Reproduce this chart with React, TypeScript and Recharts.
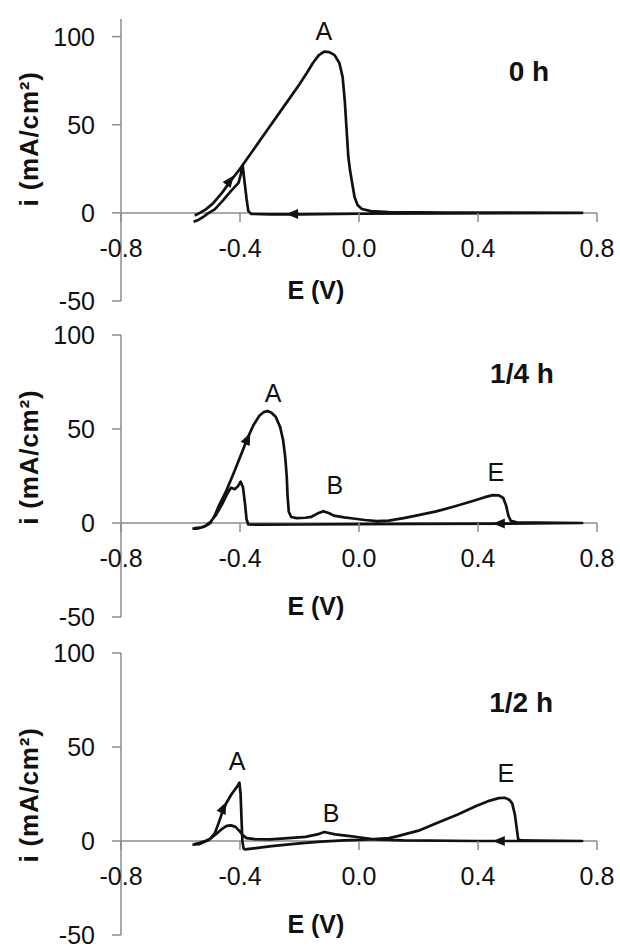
import { LineChart, Line, XAxis, YAxis, ReferenceLine, ReferenceDot } from "recharts";

const FONT = '"Liberation Sans", Arial, sans-serif';
const INK = "#111";
const AXIS = "#8c8c8c";

const xTicks = [-0.8, -0.4, 0, 0.4, 0.8];
const yTicks = [-50, 0, 50, 100];

// cyclic scans, [E (V), i (mA/cm2)] in scan order: forward sweep then the return sweep
const scan0h: [number, number][] = [
  [-0.552, -1.5], [-0.535, 0], [-0.515, 2], [-0.49, 5.5], [-0.46, 11.5], [-0.43, 18.5],
  [-0.4, 25], [-0.35, 37], [-0.3, 49], [-0.25, 61], [-0.2, 73], [-0.175, 79.5],
  [-0.155, 85], [-0.135, 89.5], [-0.117, 91.5], [-0.1, 91.2], [-0.082, 89.5], [-0.066, 85],
  [-0.055, 77], [-0.048, 64], [-0.042, 48], [-0.036, 32], [-0.03, 24], [-0.022, 16],
  [-0.015, 9], [-0.005, 4.5], [0.01, 2.2], [0.04, 1], [0.1, 0.4], [0.3, 0.2],
  [0.5, 0.1], [0.75, 0],
  [0.5, -0.2], [0.3, -0.3], [0, -0.5], [-0.2, -0.8], [-0.3, -0.8], [-0.362, -0.6],
  [-0.372, 1], [-0.378, 8], [-0.385, 18], [-0.391, 27], [-0.397, 22], [-0.405, 17],
  [-0.43, 12.5], [-0.46, 6.5], [-0.485, 2], [-0.505, 0], [-0.525, -2.5], [-0.54, -4],
  [-0.556, -5],
];

const scan15m: [number, number][] = [
  [-0.555, -2.8], [-0.53, -2.3], [-0.515, -1.5], [-0.5, 0], [-0.485, 4], [-0.47, 9.5],
  [-0.445, 17.5], [-0.42, 27], [-0.4, 35], [-0.375, 45], [-0.355, 52], [-0.335, 57],
  [-0.32, 59], [-0.308, 59.5], [-0.295, 58.8], [-0.28, 56.5], [-0.265, 51], [-0.255, 44],
  [-0.248, 35], [-0.243, 25], [-0.24, 14], [-0.236, 6], [-0.228, 3.2], [-0.21, 2.6],
  [-0.18, 2.8], [-0.16, 3.3], [-0.14, 5], [-0.12, 6.3], [-0.1, 5.2], [-0.085, 3.9],
  [-0.05, 3], [-0.02, 2.4], [0.02, 1.6], [0.06, 1], [0.1, 1.3], [0.15, 2.6],
  [0.2, 4.2], [0.26, 6.2], [0.32, 8.8], [0.38, 11.6], [0.42, 13.6], [0.45, 14.8],
  [0.47, 14.7], [0.485, 13.3], [0.495, 9], [0.502, 4], [0.51, 1.2], [0.53, 0.4],
  [0.6, 0.2], [0.75, 0],
  [0.5, -0.3], [0.2, -0.5], [0, -0.6], [-0.2, -0.8], [-0.33, -0.9], [-0.372, -0.8],
  [-0.378, 2], [-0.383, 10], [-0.39, 19], [-0.398, 22], [-0.407, 19.5], [-0.418, 18],
  [-0.43, 18.8], [-0.443, 15.5], [-0.46, 10], [-0.48, 4.5], [-0.5, 0.5], [-0.52, -2],
  [-0.545, -3], [-0.56, -3],
];

const scan30m: [number, number][] = [
  [-0.555, -1.8], [-0.535, -1], [-0.517, 0], [-0.5, 1.2], [-0.485, 4], [-0.472, 9.5],
  [-0.46, 15], [-0.445, 20.5], [-0.428, 25], [-0.412, 28.5], [-0.402, 31], [-0.398, 25],
  [-0.395, 12], [-0.392, 0], [-0.388, -4], [-0.383, -4.5], [-0.34, -3.7], [-0.294, -2.7],
  [-0.2, -1.3], [-0.128, -0.3], [-0.05, 0.3], [0, 0.6], [0.05, 1], [0.1, 1.6],
  [0.13, 2.6], [0.2, 5.5], [0.262, 9.6], [0.33, 14], [0.394, 18.6], [0.44, 21.5],
  [0.47, 22.8], [0.49, 23], [0.505, 22], [0.515, 20], [0.524, 14], [0.53, 7],
  [0.535, 1], [0.545, 0.3], [0.6, 0.2], [0.75, 0],
  [0.4, 0], [0.15, 0.3], [0.05, 0.9], [0, 2], [-0.03, 2.6], [-0.08, 3.5],
  [-0.117, 4.8], [-0.14, 3.5], [-0.18, 2.2], [-0.25, 1.4], [-0.3, 0.9], [-0.35, 1],
  [-0.378, 1.5], [-0.39, 3], [-0.4, 5], [-0.415, 7.5], [-0.43, 8.3], [-0.445, 8],
  [-0.46, 6.5], [-0.478, 4], [-0.505, 0.5], [-0.538, -1.7], [-0.56, -2],
];

type Note = { text: string; e: number; i: number };
type Arrow = { e: number; i: number; de: number; di: number };

const peaks0h: Note[] = [{ text: "A", e: -0.118, i: 103 }];
const peaks15m: Note[] = [
  { text: "A", e: -0.289, i: 69 },
  { text: "B", e: -0.081, i: 20 },
  { text: "E", e: 0.46, i: 27 },
];
const peaks30m: Note[] = [
  { text: "A", e: -0.41, i: 42.5 },
  { text: "B", e: -0.094, i: 15 },
  { text: "E", e: 0.494, i: 36 },
];

const arrows0h: Arrow[] = [
  { e: -0.433, i: 18.5, de: 0.089, di: 20 },
  { e: -0.225, i: -0.7, de: -1, di: 0 },
];
const arrows15m: Arrow[] = [
  { e: -0.374, i: 45, de: 0.066, di: 22.3 },
  { e: 0.47, i: -0.3, de: -1, di: 0 },
];
const arrows30m: Arrow[] = [
  { e: -0.455, i: 17.8, de: 0.044, di: 15 },
  { e: 0.47, i: 0, de: -1, di: 0 },
];

const PLOT_LEFT = 121;
const PLOT_RIGHT = 23;
const PLOT_H = 282;
const PLOT_W = 620 - PLOT_LEFT - PLOT_RIGHT;

const panels = [
  { tag: { text: "0 h", e: 0.571, i: 80.5 }, scan: scan0h, peaks: peaks0h, arrows: arrows0h, domain: [-50, 110], top: 0, marginTop: 19, bottom: 14, yTitle: 42 },
  { tag: { text: "1/4 h", e: 0.548, i: 80 }, scan: scan15m, peaks: peaks15m, arrows: arrows15m, domain: [-50, 100], top: 321, marginTop: 14, bottom: 14, yTitle: 35 },
  { tag: { text: "1/2 h", e: 0.545, i: 74 }, scan: scan30m, peaks: peaks30m, arrows: arrows30m, domain: [-50, 100], top: 639, marginTop: 14, bottom: 12, yTitle: 24.5 },
];

function Panel({ p }: { p: (typeof panels)[number] }) {
  const [lo, hi] = p.domain;
  const pxPerI = PLOT_H / (hi - lo);
  const pxPerE = PLOT_W / 1.6;
  const data = p.scan.map(([e, i]) => ({ e, i }));

  const textShape = (n: Note, size: number, weight: number) => (s: any) => (
    <text x={s.cx} y={s.cy} dy="0.36em" textAnchor="middle" fontSize={size} fontWeight={weight} fill={INK}>
      {n.text}
    </text>
  );

  return (
    <div style={{ position: "absolute", left: 0, top: p.top }}>
      <LineChart width={620} height={p.marginTop + PLOT_H + p.bottom} data={data}
        margin={{ top: p.marginTop, right: PLOT_RIGHT, bottom: p.bottom, left: 0 }}>
        <XAxis type="number" dataKey="e" domain={[-0.8, 0.8]} ticks={xTicks} allowDataOverflow hide />
        <YAxis type="number" domain={p.domain} ticks={yTicks} interval={0} allowDataOverflow width={PLOT_LEFT}
          tickSize={9} tickMargin={17} tick={{ fontSize: 25, fill: INK }}
          axisLine={{ stroke: AXIS, strokeWidth: 1.5 }} tickLine={{ stroke: AXIS, strokeWidth: 1.5 }} />
        <ReferenceLine y={0} stroke={AXIS} strokeWidth={1.5} />
        {/* x axis crosses at i = 0, so its ticks ride on that line */}
        {xTicks.map((t) => (
          <ReferenceDot key={"x" + t} x={t} y={0} ifOverflow="visible"
            shape={(s: any) => (
              <g>
                <line x1={s.cx} x2={s.cx} y1={s.cy} y2={s.cy + 9} stroke={AXIS} strokeWidth={1.5} />
                <text x={s.cx} y={s.cy + 44} textAnchor="middle" fontSize={25} fill={INK}>
                  {t.toFixed(1)}
                </text>
              </g>
            )} />
        ))}
        <Line type="linear" dataKey="i" stroke={INK} strokeWidth={2.7} dot={false}
          strokeLinejoin="round" isAnimationActive={false} />
        {p.arrows.map((a, k) => {
          const ang = (Math.atan2(-a.di * pxPerI, a.de * pxPerE) * 180) / Math.PI;
          return (
            <ReferenceDot key={"a" + k} x={a.e} y={a.i} ifOverflow="visible"
              shape={(s: any) => (
                <polygon
                  points={`${s.cx + 6},${s.cy} ${s.cx - 6},${s.cy - 5} ${s.cx - 6},${s.cy + 5}`}
                  transform={`rotate(${ang} ${s.cx} ${s.cy})`} fill={INK} />
              )} />
          );
        })}
        {p.peaks.map((n, k) => (
          <ReferenceDot key={"p" + k} x={n.e} y={n.i} ifOverflow="visible" shape={textShape(n, 25, 400)} />
        ))}
        <ReferenceDot x={p.tag.e} y={p.tag.i} ifOverflow="visible" shape={textShape(p.tag, 28, 700)} />
        <ReferenceDot x={-0.145} y={-49} ifOverflow="visible"
          shape={(s: any) => (
            <text x={s.cx} y={s.cy} textAnchor="middle" fontSize={25} fontWeight={700} fill={INK}>
              E (V)
            </text>
          )} />
        <ReferenceDot x={-1.109} y={p.yTitle} ifOverflow="visible"
          shape={(s: any) => (
            <text x={s.cx} y={s.cy} dy="0.36em" textAnchor="middle" fontSize={26} fontWeight={700}
              letterSpacing={0.8} fill={INK} transform={`rotate(-90 ${s.cx} ${s.cy})`}>
              i (mA/cm²)
            </text>
          )} />
      </LineChart>
    </div>
  );
}

export default function App() {
  return (
    <div style={{ position: "absolute", left: 0, top: 0, width: 620, height: 947, overflow: "hidden", background: "#fff", fontFamily: FONT }}>
      {panels.map((p, k) => (
        <Panel key={k} p={p} />
      ))}
    </div>
  );
}
